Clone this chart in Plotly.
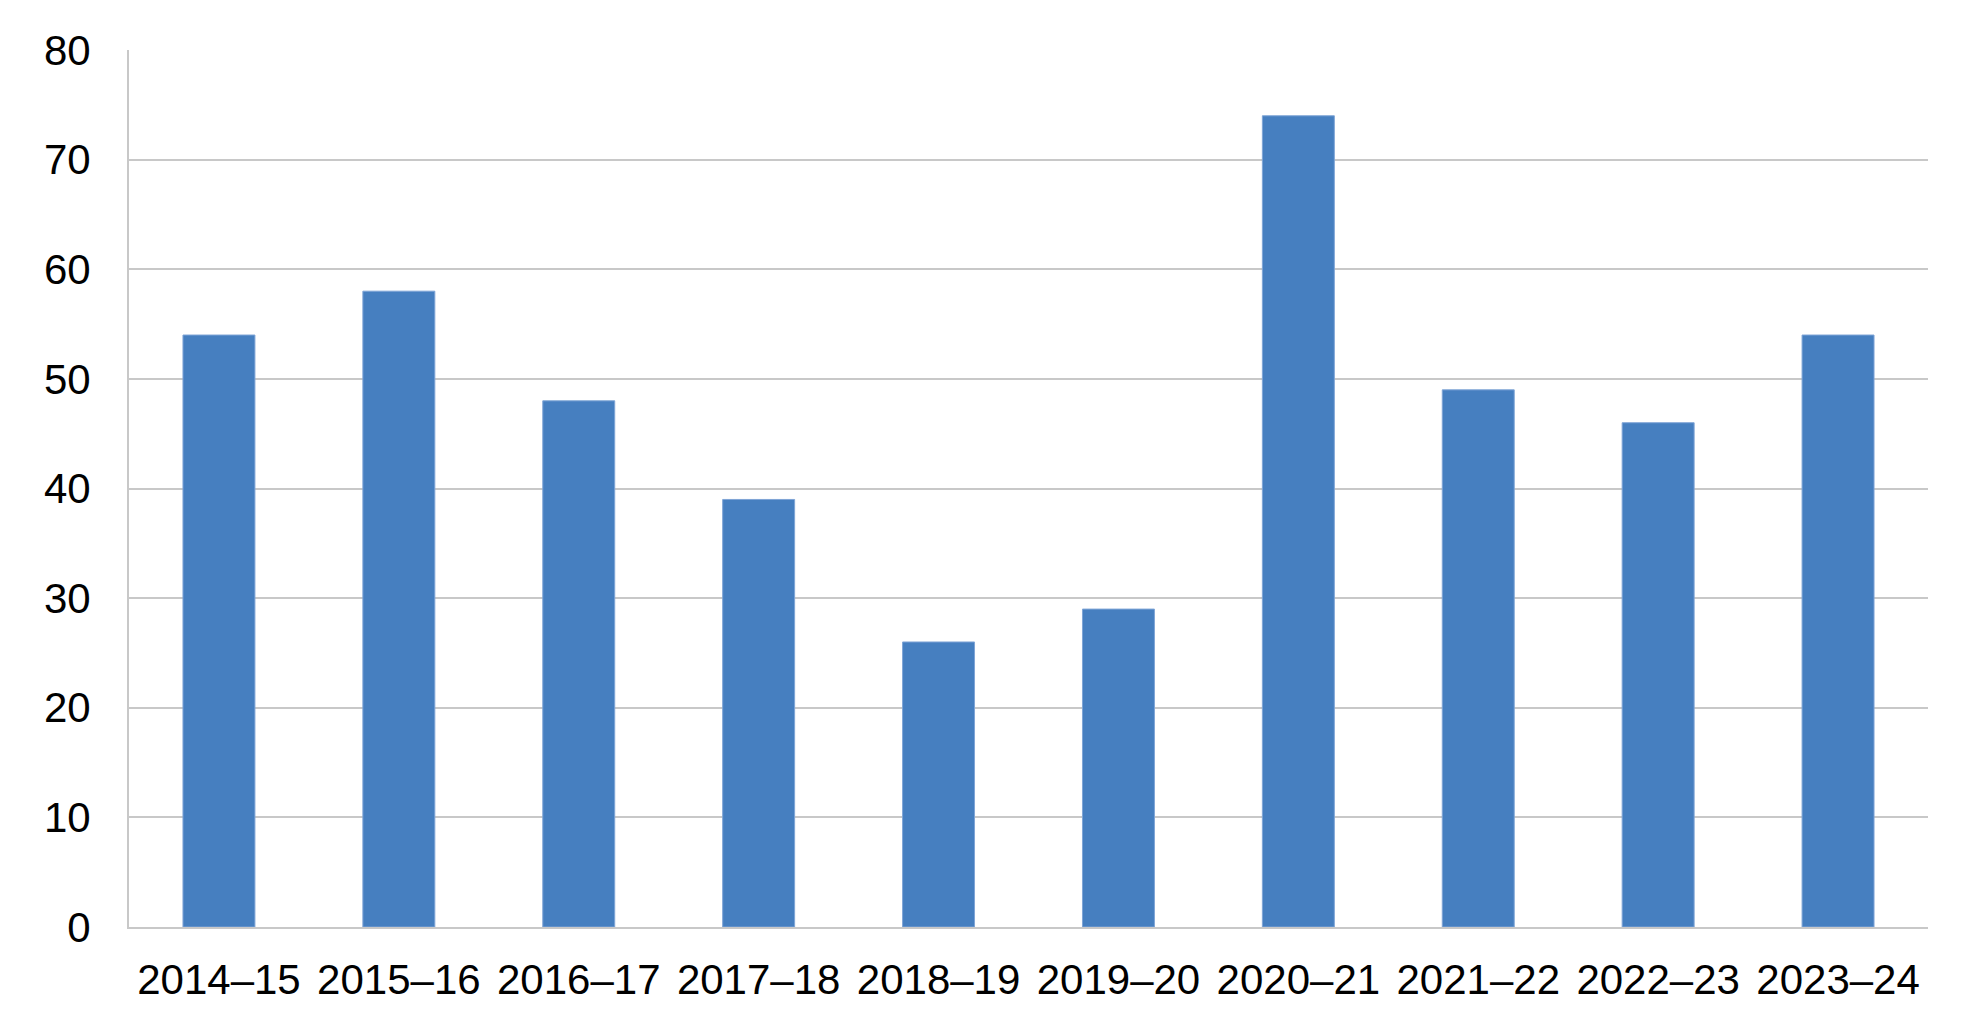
import plotly.graph_objects as go

categories = ["2014–15", "2015–16", "2016–17", "2017–18", "2018–19",
              "2019–20", "2020–21", "2021–22", "2022–23", "2023–24"]
values = [54, 58, 48, 39, 26, 29, 74, 49, 46, 54]
y_ticks = [0, 10, 20, 30, 40, 50, 60, 70, 80]

BAR = "#467FC0"
GRID = "#C8C8C8"
FONT = "Liberation Sans, Arial, sans-serif"

fig = go.Figure(go.Bar(
    x=categories, y=values,
    marker=dict(color=BAR, line=dict(color="#7FA5D6", width=1)),
))

# page body has an 8px default margin; size and margins compensate for it
fig.update_layout(
    width=1960, height=1011,
    margin=dict(l=121, r=40, t=42, b=92),
    paper_bgcolor="white", plot_bgcolor="white",
    bargap=0.6, showlegend=False,
    font=dict(family=FONT, size=42, color="black"),
)
fig.update_xaxes(
    showline=True, linecolor=GRID, linewidth=2,
    showgrid=False, ticks="", ticklabelstandoff=15,
    tickfont=dict(family=FONT, size=42, color="black"),
)
fig.update_yaxes(
    range=[0, 80], tickvals=y_ticks,
    showline=True, linecolor=GRID, linewidth=2,
    showgrid=True, gridcolor=GRID, gridwidth=2,
    zeroline=False, ticks="", ticklabelstandoff=28,
    tickfont=dict(family=FONT, size=42, color="black"),
)

fig.write_html("out.html")
